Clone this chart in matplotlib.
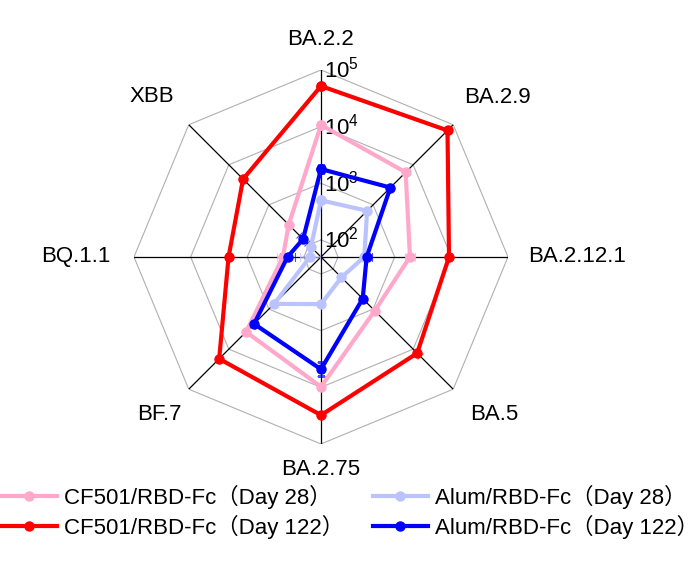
import numpy as np
import matplotlib
matplotlib.use("Agg")
import matplotlib.pyplot as plt

plt.rcParams['font.family'] = ['Liberation Sans', 'Noto Sans CJK SC', 'DejaVu Sans']
plt.rcParams['mathtext.fontset'] = 'custom'
plt.rcParams['mathtext.rm'] = 'Liberation Sans'

variants = ['BA.2.2', 'BA.2.9', 'BA.2.12.1', 'BA.5', 'BA.2.75', 'BF.7', 'BQ.1.1', 'XBB']

# titers
cf501_d28 = [10700, 6500, 1860, 1100, 9800, 3700, 235, 320]
alum_d28 = [500, 710, 290, 162, 340, 740, 78, 89]
cf501_d122 = [52000, 72000, 9100, 12600, 31000, 17400, 2140, 4400]
alum_d122 = [1780, 2700, 320, 550, 4800, 2340, 195, 140]

# error half-width in log10 units
cf501_d28_err = [0.03, 0.03, 0.09, 0.03, 0.03, 0.03, 0.1, 0.04]
alum_d28_err = [0.04, 0.03, 0.05, 0.03, 0.03, 0.03, 0.18, 0.05]
cf501_d122_err = [0.03, 0.03, 0.03, 0.06, 0.03, 0.03, 0.05, 0.05]
alum_d122_err = [0.07, 0.03, 0.09, 0.03, 0.12, 0.05, 0.14, 0.1]

legend_labels = ['CF501/RBD-Fc（Day 28）', 'Alum/RBD-Fc（Day 28）',
                 'CF501/RBD-Fc（Day 122）', 'Alum/RBD-Fc（Day 122）']
colors = ['#FFA8CB', '#BBC3FF', '#FF0000', '#0000FF']

r_min, r_max = 50, 1e5
rings = [1e2, 1e3, 1e4, 1e5]

theta = np.deg2rad(np.arange(len(variants)) * 45)
theta_closed = np.append(theta, theta[0])

fig = plt.figure(figsize=(7, 5.62), dpi=100)
ax = fig.add_axes([0.1914, 0.2100, 0.5343, 0.6655], projection='polar')
ax.set_theta_zero_location('N')
ax.set_theta_direction(-1)
ax.set_rscale('log')
ax.set_rlim(r_min, r_max)
ax.grid(False)
ax.set_xticks([])
ax.set_yticks([])
ax.spines['polar'].set_visible(False)

# octagon grid
for r in rings:
    ax.plot(theta_closed, [r] * len(theta_closed), color='#B0B0B0', lw=0.8, zorder=1)
# spokes
for t in theta:
    ax.plot([t, t], [r_min, r_max], color='black', lw=0.9, zorder=2)

# ring labels
for k, r in zip([2, 3, 4, 5], rings):
    ax.annotate(r'$\mathregular{10^{%d}}$' % k, xy=(0, r), xytext=(3, 0),
                textcoords='offset pixels', ha='left', va='center', fontsize=16,
                zorder=3)

series = [cf501_d28, alum_d28, cf501_d122, alum_d122]
errors = [cf501_d28_err, alum_d28_err, cf501_d122_err, alum_d122_err]
handles = []
for vals, errs, c, lab in zip(series, errors, colors, legend_labels):
    v = np.array(vals, dtype=float)
    e = np.array(errs)
    lo = v - v / 10 ** e
    hi = v * 10 ** e - v
    ax.errorbar(theta, v, yerr=[lo, hi], fmt='none', ecolor=c, elinewidth=0.8,
                capsize=3, capthick=0.8, alpha=0.7, zorder=4)
    h, = ax.plot(theta_closed, np.append(v, v[0]), color=c, lw=3, marker='o',
                 markersize=6.5, label=lab, zorder=5)
    handles.append(h)

# category labels, offsets in pixels from the outer ring vertex
label_pos = {
    'BA.2.2': ((0, 30), 'center', 'center'),
    'BA.2.9': ((44, 27), 'center', 'center'),
    'BA.2.12.1': ((20, 0), 'left', 'center'),
    'BA.5': ((41, -25), 'center', 'center'),
    'BA.2.75': ((0, -26), 'center', 'center'),
    'BF.7': ((-29, -25), 'center', 'center'),
    'BQ.1.1': ((-23, 0), 'right', 'center'),
    'XBB': ((-37, 28), 'center', 'center'),
}
for t, name in zip(theta, variants):
    off, ha, va = label_pos[name]
    ax.annotate(name, xy=(t, r_max), xytext=off, textcoords='offset pixels',
                ha=ha, va=va, fontsize=16, annotation_clip=False)

order = [0, 2, 1, 3]
fig.legend([handles[i] for i in order], [legend_labels[i] for i in order],
           ncol=2, loc='upper left', bbox_to_anchor=(0.002, 0.137),
           frameon=False, fontsize=16, borderpad=0, borderaxespad=0,
           handlelength=2.5, handletextpad=0.3, columnspacing=1.3,
           labelspacing=0.25)

fig.savefig('out.png', dpi=100)
